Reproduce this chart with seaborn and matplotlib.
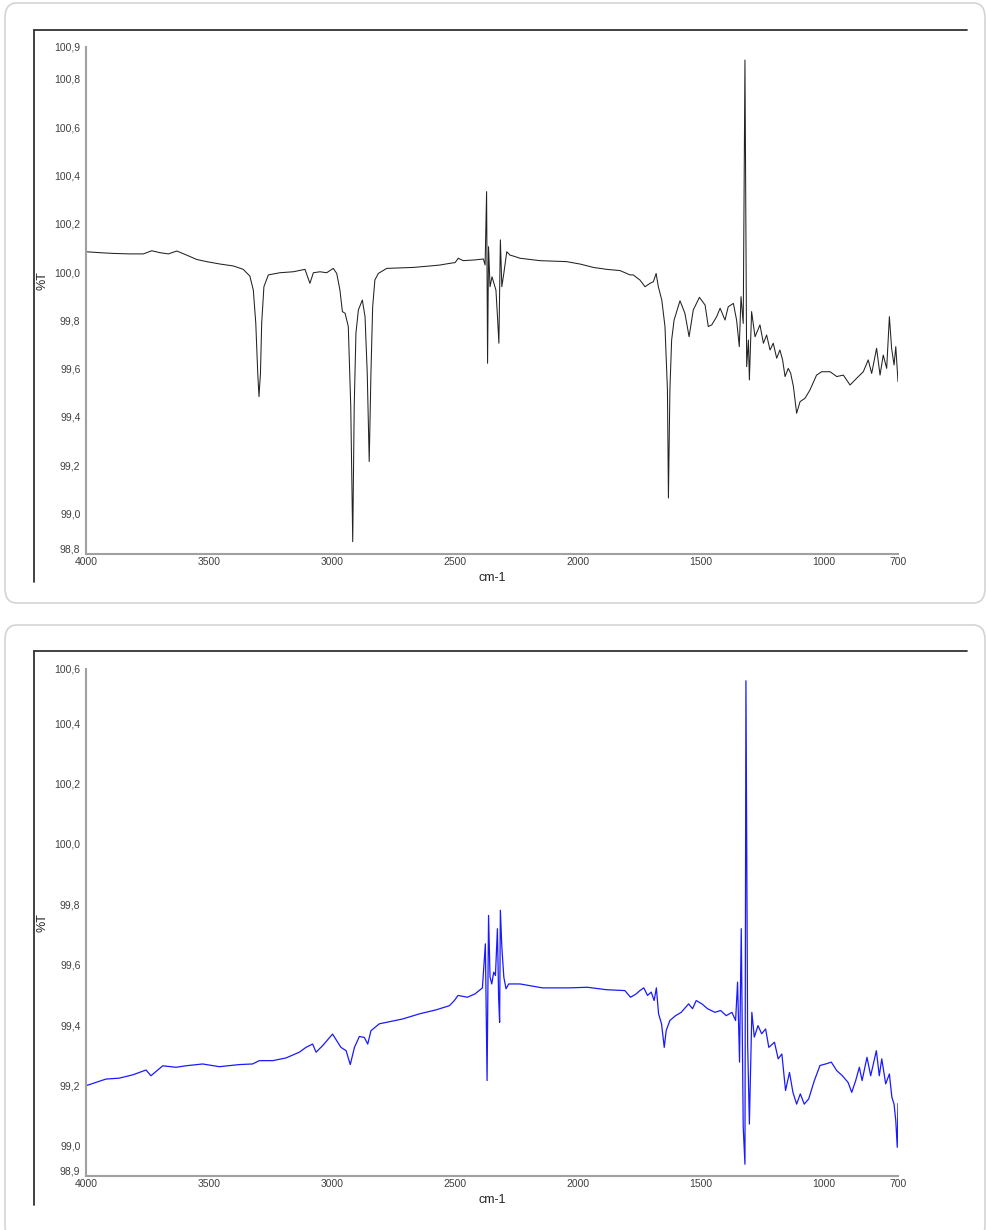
import pandas as pd
import seaborn as sns
import matplotlib.pyplot as plt
from matplotlib.patches import FancyBboxPatch
from matplotlib.lines import Line2D
from matplotlib.ticker import FuncFormatter

# espectro 1 (preto) - numero de onda (cm-1) e %T
wn_1 = [4000, 3943, 3889, 3821, 3767, 3733, 3699, 3665, 3631, 3591, 3550, 3510, 3455, 3401,
        3361, 3334, 3320, 3310, 3302, 3297, 3291, 3286, 3277, 3259, 3212, 3158, 3110, 3090,
        3076, 3049, 3022, 2995, 2981, 2968, 2958, 2947, 2934, 2924, 2916, 2910, 2903, 2893,
        2877, 2866, 2857, 2849, 2842, 2835, 2826, 2812, 2778, 2670, 2602, 2561, 2521, 2500,
        2487, 2467, 2420, 2385, 2378, 2372, 2368, 2364, 2358, 2350, 2342, 2334, 2327, 2322,
        2316, 2310, 2302, 2290, 2277, 2263, 2236, 2196, 2155, 2100, 2047, 1992, 1938, 1884,
        1830, 1789, 1776, 1749, 1728, 1708, 1694, 1683, 1674, 1660, 1647, 1637, 1633, 1627,
        1620, 1610, 1586, 1566, 1549, 1532, 1507, 1484, 1471, 1457, 1437, 1423, 1403, 1390,
        1369, 1356, 1345, 1338, 1329, 1322, 1315, 1308, 1304, 1295, 1281, 1261, 1247, 1234,
        1220, 1207, 1193, 1180, 1169, 1159, 1146, 1136, 1125, 1112, 1098, 1078, 1058, 1031,
        1010, 976, 949, 922, 895, 868, 841, 821, 807, 787, 773, 760, 746, 735, 726, 716, 709, 700]
t_1 = [100.084, 100.080, 100.077, 100.075, 100.075, 100.088, 100.080, 100.075, 100.087, 100.070,
       100.052, 100.043, 100.033, 100.025, 100.011, 99.983, 99.925, 99.788, 99.580, 99.484,
       99.580, 99.788, 99.939, 99.988, 99.997, 100.001, 100.011, 99.953, 99.997, 100.001,
       99.997, 100.015, 99.994, 99.925, 99.836, 99.829, 99.774, 99.442, 98.883, 99.442,
       99.746, 99.843, 99.884, 99.815, 99.580, 99.215, 99.580, 99.856, 99.967, 99.994,
       100.015, 100.019, 100.025, 100.029, 100.036, 100.039, 100.057, 100.047, 100.050, 100.054,
       100.029, 100.333, 99.622, 100.105, 99.939, 99.980, 99.952, 99.925, 99.801, 99.705,
       100.133, 99.939, 99.994, 100.084, 100.070, 100.066, 100.057, 100.052, 100.047, 100.045,
       100.043, 100.033, 100.019, 100.011, 100.006, 99.988, 99.988, 99.967, 99.939, 99.953,
       99.960, 99.994, 99.939, 99.884, 99.774, 99.511, 99.064, 99.511, 99.718, 99.801,
       99.881, 99.829, 99.732, 99.843, 99.895, 99.863, 99.774, 99.781, 99.815, 99.850,
       99.801, 99.856, 99.870, 99.801, 99.691, 99.898, 99.787, 100.878, 99.608, 99.718,
       99.553, 99.836, 99.732, 99.781, 99.705, 99.739, 99.677, 99.705, 99.643, 99.677,
       99.636, 99.567, 99.601, 99.580, 99.525, 99.415, 99.463, 99.477, 99.511, 99.573,
       99.587, 99.587, 99.567, 99.573, 99.532, 99.560, 99.587, 99.636, 99.580, 99.684,
       99.573, 99.656, 99.601, 99.815, 99.684, 99.615, 99.691, 99.546]

# espectro 2 (azul)
wn_2 = [4000, 3959, 3919, 3865, 3810, 3756, 3736, 3688, 3634, 3594, 3526, 3458, 3377, 3323,
        3296, 3241, 3187, 3133, 3106, 3079, 3065, 3038, 2998, 2964, 2943, 2926, 2909, 2889,
        2869, 2855, 2842, 2808, 2713, 2645, 2578, 2523, 2503, 2488, 2450, 2419, 2389, 2377,
        2370, 2364, 2358, 2351, 2343, 2336, 2328, 2323, 2319, 2316, 2310, 2302, 2293, 2282,
        2236, 2145, 2038, 1962, 1886, 1810, 1787, 1764, 1749, 1733, 1718, 1703, 1691, 1682,
        1673, 1661, 1650, 1642, 1627, 1604, 1581, 1551, 1535, 1520, 1497, 1474, 1444, 1421,
        1398, 1375, 1360, 1352, 1344, 1337, 1329, 1322, 1318, 1311, 1304, 1294, 1284, 1269,
        1254, 1238, 1225, 1202, 1187, 1172, 1157, 1141, 1127, 1112, 1097, 1081, 1063, 1040,
        1017, 994, 971, 949, 926, 903, 888, 872, 857, 846, 826, 811, 788, 776, 766, 750,
        735, 725, 716, 709, 703, 700]
t_2 = [99.199, 99.210, 99.221, 99.224, 99.235, 99.251, 99.232, 99.265, 99.260, 99.265,
       99.271, 99.262, 99.269, 99.271, 99.282, 99.282, 99.291, 99.310, 99.326, 99.337,
       99.310, 99.332, 99.370, 99.326, 99.315, 99.269, 99.326, 99.362, 99.359, 99.337,
       99.381, 99.404, 99.420, 99.437, 99.450, 99.464, 99.481, 99.498, 99.492, 99.503,
       99.523, 99.669, 99.216, 99.763, 99.559, 99.536, 99.575, 99.564, 99.719, 99.487,
       99.409, 99.780, 99.658, 99.559, 99.520, 99.536, 99.536, 99.523, 99.523, 99.525,
       99.517, 99.514, 99.492, 99.503, 99.514, 99.523, 99.498, 99.509, 99.481, 99.523,
       99.437, 99.404, 99.326, 99.382, 99.415, 99.431, 99.442, 99.470, 99.454, 99.481,
       99.470, 99.454, 99.442, 99.448, 99.431, 99.442, 99.415, 99.542, 99.277, 99.719,
       99.061, 98.939, 100.540, 99.337, 99.072, 99.442, 99.360, 99.398, 99.371, 99.387,
       99.326, 99.343, 99.288, 99.304, 99.183, 99.243, 99.177, 99.138, 99.172, 99.138,
       99.155, 99.216, 99.266, 99.271, 99.277, 99.249, 99.232, 99.210, 99.177, 99.216,
       99.260, 99.216, 99.293, 99.232, 99.315, 99.232, 99.288, 99.205, 99.238, 99.161,
       99.138, 99.083, 98.995, 99.140]

xticks = [4000, 3500, 3000, 2500, 2000, 1500, 1000, 700]
yticks_1 = [98.832, 99.0, 99.2, 99.4, 99.6, 99.8, 100.0, 100.2, 100.4, 100.6, 100.8, 100.932]
yticks_2 = [98.9, 99.0, 99.2, 99.4, 99.6, 99.8, 100.0, 100.2, 100.4, 100.579]

df1 = pd.DataFrame({'cm-1': wn_1, '%T': t_1})
df2 = pd.DataFrame({'cm-1': wn_2, '%T': t_2})

sns.set_style('white')
plt.rcParams['font.family'] = ['Liberation Sans', 'DejaVu Sans']

W, H = 987, 1230
fig = plt.figure(figsize=(W / 100, H / 100), dpi=100)

def fx(px):
    return px / W

def fy(py):
    return 1 - py / H

# molduras arredondadas e linhas escuras de cada painel
for top, bottom in [(3, 603), (625, 1240)]:
    box = FancyBboxPatch((fx(5), fy(bottom)), fx(980), (bottom - top) / H,
                         boxstyle='round,pad=0,rounding_size=0.012',
                         transform=fig.transFigure, fill=False,
                         edgecolor='#d4d4d4', linewidth=1.2)
    fig.add_artist(box)
for top, bottom in [(30, 582), (651, 1205)]:
    fig.add_artist(Line2D([fx(34), fx(967)], [fy(top), fy(top)], color='#333333', lw=1.3))
    fig.add_artist(Line2D([fx(34), fx(34)], [fy(top), fy(bottom)], color='#333333', lw=1.3))

fmt = FuncFormatter(lambda v, p: f'{v:.1f}'.replace('.', ','))

paineis = [
    (df1, '#222222', 0.75, 47, yticks_1, 0.54),
    (df2, '#1a1aff', 0.9, 669, yticks_2, 0.50),
]
for df, cor, lw, ytop, yt, ylab in paineis:
    ax = fig.add_axes([fx(86), fy(ytop + 507), fx(812), 507 / H])
    sns.lineplot(data=df, x='cm-1', y='%T', ax=ax, color=cor, linewidth=lw, estimator=None)
    ax.set_xlim(4000, 700)
    ax.set_ylim(yt[0], yt[-1])
    ax.set_xticks(xticks)
    ax.set_yticks(yt)
    ax.yaxis.set_major_formatter(fmt)
    for s in ['top', 'right']:
        ax.spines[s].set_visible(False)
    for s in ['left', 'bottom']:
        ax.spines[s].set_color('#a0a0a0')
        ax.spines[s].set_linewidth(1.5)
    ax.tick_params(axis='y', direction='out', length=3, width=0.8, color='#555555',
                   pad=1, labelsize=7.5, labelcolor='#404040')
    ax.tick_params(axis='x', direction='in', length=3, width=0.8, color='#a0a0a0',
                   pad=2, labelsize=7.5, labelcolor='#404040')
    # rotulo do limite inferior um pouco acima para nao cobrir o 4000
    ax.get_yticklabels()[0].set_va('bottom')
    ax.set_xlabel('cm-1', fontsize=9, color='#222222')
    ax.xaxis.set_label_coords(0.5, -0.036)
    ax.set_ylabel('%T', fontsize=9, color='#222222')
    ax.yaxis.set_label_coords(-0.046, ylab)

plt.savefig('out.png', dpi=100)
